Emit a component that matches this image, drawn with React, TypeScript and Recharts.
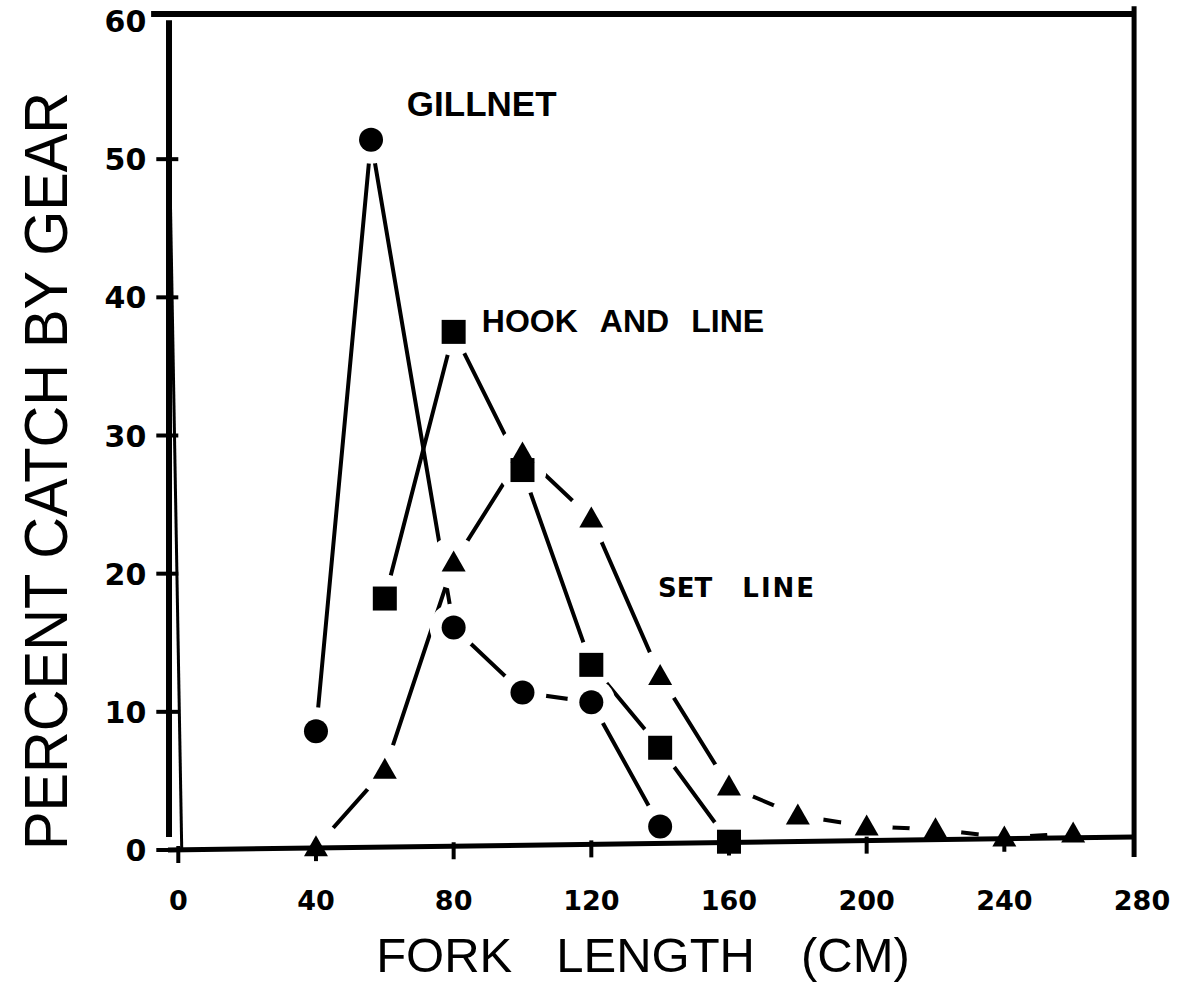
import React from 'react';
import { LineChart, Line, XAxis, YAxis, ReferenceLine, ReferenceDot } from 'recharts';

// ---- data ----
const gillnetLength = [40, 56, 80, 100, 120, 140];
const gillnetPercent = [8.6, 51.4, 16.1, 11.4, 10.7, 1.7];

const hookLength = [60, 80, 100, 120, 140, 160];
const hookPercent = [18.2, 37.5, 27.5, 13.4, 7.4, 0.6];

const setLength = [40, 60, 80, 100, 120, 140, 160, 180, 200, 220, 240, 260];
const setPercent = [0.2, 5.8, 20.8, 28.7, 24.0, 12.6, 4.6, 2.5, 1.7, 1.5, 0.9, 1.2];

const xTicks = [0, 40, 80, 120, 160, 200, 240, 280];
const yTicks = [0, 10, 20, 30, 40, 50, 60];

const toRows = (xs: number[], ys: number[]) => xs.map((x, i) => ({ x, y: ys[i] }));

const gillRows = toRows(gillnetLength, gillnetPercent);
const hookRows = toRows(hookLength, hookPercent);
const setRows = toRows(setLength, setPercent);

type Shape = 'circle' | 'square' | 'triangle';

const makeDot = (shape: Shape, mode: 'halo' | 'mark') => (props: any) => {
  const { cx, cy, index } = props;
  if (cx == null || cy == null) return <g key={index} />;
  if (mode === 'halo') {
    const r = shape === 'triangle' ? 26 : 24;
    return <circle key={index} cx={cx} cy={cy} r={r} fill="#ffffff" />;
  }
  if (shape === 'circle') return <circle key={index} cx={cx} cy={cy} r={12} fill="#000" />;
  if (shape === 'square')
    return <rect key={index} x={cx - 12} y={cy - 12} width={24} height={24} fill="#000" />;
  return (
    <polygon
      key={index}
      points={`${cx},${cy - 12} ${cx + 12},${cy + 9} ${cx - 12},${cy + 9}`}
      fill="#000"
    />
  );
};

const series: { name: string; rows: { x: number; y: number }[]; shape: Shape }[] = [
  { name: 'set', rows: setRows, shape: 'triangle' },
  { name: 'hook', rows: hookRows, shape: 'square' },
  { name: 'gill', rows: gillRows, shape: 'circle' },
];

const XTick = (props: any) => {
  const { x, y, payload } = props;
  const v = payload.value as number;
  const lift = (v / 277.7) * 13; // follow the slightly tilted hand-drawn axis
  return (
    <g>
      {v !== 280 && (
        <line x1={x} x2={x} y1={y - lift - 4} y2={y - lift + 13} stroke="#000" strokeWidth={4} />
      )}
      <text
        x={x}
        y={y + 60}
        textAnchor="middle"
        fontFamily="DejaVu Sans"
        fontWeight="bold"
        fontSize={27}
        fill="#000"
      >
        {v}
      </text>
    </g>
  );
};

const YTick = (props: any) => {
  const { x, y, payload } = props;
  const v = payload.value as number;
  return (
    <g>
      {v !== 60 && <line x1={x - 22} x2={x} y1={y} y2={y} stroke="#000" strokeWidth={4} />}
      <text
        x={x - 32}
        y={y + 11}
        textAnchor="end"
        fontFamily="DejaVu Sans"
        fontWeight="bold"
        fontSize={30}
        fill="#000"
      >
        {v}
      </text>
    </g>
  );
};

const XTitle = () => (
  <text x={643} y={972} textAnchor="middle" fontFamily="Liberation Sans" fontSize={49} fill="#000">
    <tspan>FORK</tspan>
    <tspan dx={44}>LENGTH</tspan>
    <tspan dx={46}>(CM)</tspan>
  </text>
);

const YTitle = () => (
  <text
    x={67}
    y={471}
    transform="rotate(-90 67 471)"
    textAnchor="middle"
    fontFamily="Liberation Sans"
    fontSize={62}
    textLength={758}
    lengthAdjust="spacingAndGlyphs"
    fill="#000"
  >
    PERCENT CATCH BY GEAR
  </text>
);

const frameProps = { stroke: '#000', ifOverflow: 'visible' as const, zIndex: 1600 };

export default function App() {
  return (
    <div style={{ position: 'absolute', left: 0, top: 0, width: 1180, height: 1004, background: '#fff' }}>
      <LineChart
        width={1180}
        height={1004}
        margin={{ top: 21, right: 38, bottom: 94, left: 78.3 }}
      >
        {series.flatMap((s) => [
          <Line
            key={s.name + '-line'}
            data={s.rows}
            dataKey="y"
            type="linear"
            stroke="#000"
            strokeWidth={4}
            dot={false}
            activeDot={false}
            legendType="none"
            isAnimationActive={false}
          />,
          <Line
            key={s.name + '-halo'}
            data={s.rows}
            dataKey="y"
            type="linear"
            stroke="none"
            dot={makeDot(s.shape, 'halo')}
            activeDot={false}
            legendType="none"
            isAnimationActive={false}
          />,
        ])}
        {series.map((s) => (
          <Line
            key={s.name + '-mark'}
            data={s.rows}
            dataKey="y"
            type="linear"
            stroke="none"
            dot={makeDot(s.shape, 'mark')}
            activeDot={false}
            legendType="none"
            isAnimationActive={false}
          />
        ))}

        <XAxis
          type="number"
          dataKey="x"
          domain={[0, 280]}
          ticks={xTicks}
          interval={0}
          axisLine={false}
          tickLine={false}
          tickSize={0}
          tickMargin={0}
          tick={<XTick />}
          height={60}
          label={<XTitle />}
        />
        <YAxis
          type="number"
          domain={[0, 60]}
          ticks={yTicks}
          interval={0}
          axisLine={false}
          tickLine={false}
          tickSize={0}
          tickMargin={0}
          tick={<YTick />}
          width={100}
          label={<YTitle />}
        />

        {/* hand-drawn frame and axes */}
        <ReferenceLine {...frameProps} strokeWidth={5} segment={[{ x: -3, y: 0 }, { x: 277.7, y: 0.94 }]} />
        <ReferenceLine {...frameProps} strokeWidth={3} segment={[{ x: 1, y: 0 }, { x: -3, y: 57 }]} />
        <ReferenceLine {...frameProps} strokeWidth={6} segment={[{ x: -2.7, y: 60.05 }, { x: -2.7, y: 0.94 }]} />
        <ReferenceLine {...frameProps} strokeWidth={6} segment={[{ x: -7.9, y: 60.5 }, { x: 277.7, y: 60.5 }]} />
        <ReferenceLine {...frameProps} strokeWidth={5} segment={[{ x: 277.7, y: 61.07 }, { x: 277.7, y: -0.5 }]} />

        {/* curve labels */}
        <ReferenceDot
          x={66.4}
          y={53.1}
          r={0}
          ifOverflow="visible"
          shape={(p: any) => (
            <text x={p.cx} y={p.cy} fontFamily="Liberation Sans" fontWeight="bold" fontSize={35} fill="#000">
              GILLNET
            </text>
          )}
        />
        <ReferenceDot
          x={88.2}
          y={37.5}
          r={0}
          ifOverflow="visible"
          shape={(p: any) => (
            <text x={p.cx} y={p.cy} fontFamily="Liberation Sans" fontWeight="bold" fontSize={32} fill="#000">
              <tspan>HOOK</tspan>
              <tspan dx={22}>AND</tspan>
              <tspan dx={22}>LINE</tspan>
            </text>
          )}
        />
        <ReferenceDot
          x={139.4}
          y={18.3}
          r={0}
          ifOverflow="visible"
          shape={(p: any) => (
            <text x={p.cx} y={p.cy} fontFamily="DejaVu Sans" fontWeight="bold" fontSize={26} fill="#000">
              <tspan>SET</tspan>
              <tspan dx={30} letterSpacing={2}>LINE</tspan>
            </text>
          )}
        />
      </LineChart>
    </div>
  );
}
